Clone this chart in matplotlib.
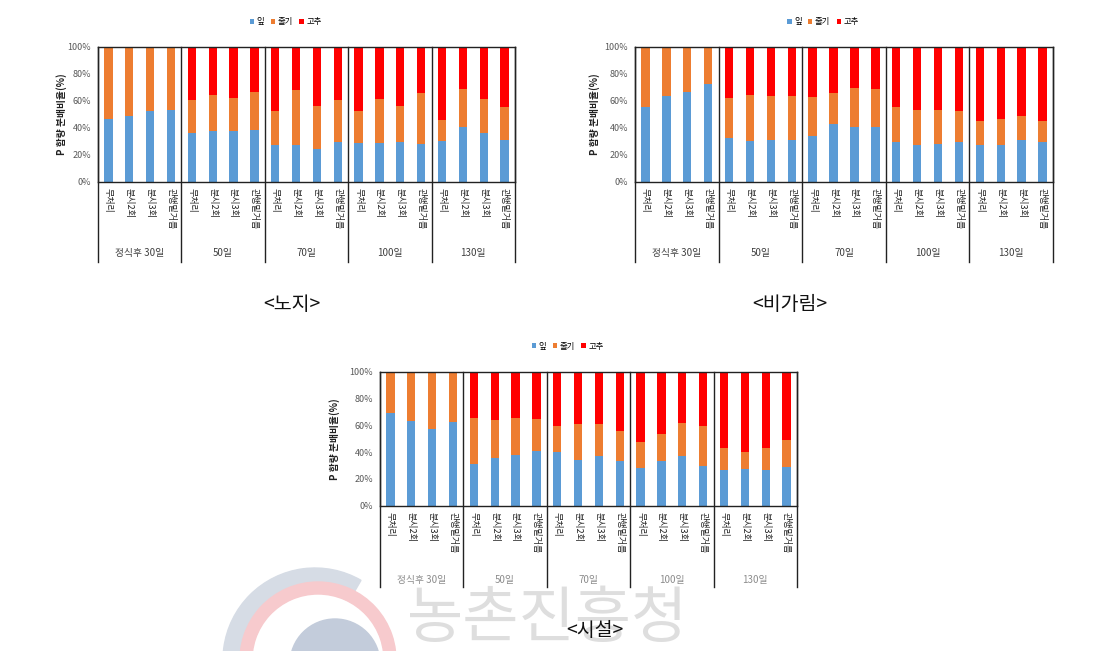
import matplotlib
matplotlib.use("Agg")
import matplotlib.pyplot as plt
from matplotlib.patches import Wedge, Circle
import numpy as np

plt.rcParams['font.family'] = ['Noto Sans CJK KR', 'DejaVu Sans']

W, H = 1117, 651

parts = ['잎', '줄기', '고추']
treatments = ['무처리', '분시2회', '분시3회', '관행밑거름']
stages = ['정식후 30일', '50일', '70일', '100일', '130일']

# 노지 (open field)
open_leaf = [46.4, 48.6, 52.6, 53.0, 35.8, 37.8, 37.5, 38.3, 27.2, 27.2,
             24.2, 29.1, 28.9, 28.4, 29.1, 27.7, 30.4, 40.2, 35.8, 30.9]
open_stem = [53.6, 51.4, 47.4, 47.0, 24.7, 26.4, 24.7, 27.9, 25.4, 40.7,
             31.8, 31.4, 23.4, 32.6, 26.9, 38.2, 15.3, 28.2, 25.4, 24.7]
open_fruit = [0, 0, 0, 0, 39.5, 35.8, 37.8, 33.8, 47.4, 32.1,
              44.0, 39.5, 47.7, 39.0, 44.0, 34.1, 54.3, 31.6, 38.8, 44.4]

# 비가림 (rain shelter)
rain_leaf = [55.6, 63.7, 66.2, 72.3, 32.1, 30.1, 30.9, 30.9, 34.1, 42.7,
             40.7, 40.2, 29.6, 27.2, 27.9, 29.6, 27.2, 27.2, 30.9, 29.1]
rain_stem = [44.4, 36.3, 33.8, 27.7, 30.1, 34.1, 32.6, 32.8, 28.9, 23.2,
             28.4, 28.2, 25.5, 25.9, 25.2, 23.0, 18.0, 19.2, 17.7, 16.1]
rain_fruit = [0, 0, 0, 0, 37.8, 35.8, 36.5, 36.3, 37.0, 34.1,
              30.9, 31.6, 44.9, 46.9, 46.9, 47.4, 54.8, 53.6, 51.4, 54.8]

# 시설 (greenhouse)
house_leaf = [69.4, 63.4, 57.2, 62.7, 31.1, 35.3, 37.8, 40.8, 40.3, 34.1,
              37.3, 33.3, 28.4, 33.6, 37.1, 29.6, 26.6, 27.1, 26.6, 29.1]
house_stem = [30.6, 36.6, 42.8, 37.3, 34.1, 28.6, 27.4, 23.6, 19.2, 26.8,
              23.6, 22.7, 18.9, 19.6, 24.8, 29.9, 16.7, 13.2, 16.7, 19.9]
house_fruit = [0, 0, 0, 0, 34.8, 36.1, 34.8, 35.6, 40.5, 39.1,
               39.1, 44.0, 52.7, 46.8, 38.1, 40.5, 56.7, 59.7, 56.7, 51.0]

colors = ['#5B9BD5', '#ED7D31', '#FF0000']

fig = plt.figure(figsize=(W / 100, H / 100), dpi=100)

# faint watermark (logo + agency name), pixel coords with y pointing down
wm = fig.add_axes([0, 0, 1, 1], zorder=0)
wm.set_xlim(0, W)
wm.set_ylim(H, 0)
wm.axis('off')
wm.add_patch(Wedge((315, 660), 92, 150, 300, width=24, color='#d6dce5'))
wm.add_patch(Wedge((318, 660), 78, -185, 5, width=12, color='#f7cacd'))
wm.add_patch(Circle((335, 664), 45, color='#c3ccdb'))
wm.text(548, 620, '농촌진흥청', fontsize=44, color='#dedede', ha='center', va='center')


def draw_chart(left, top, right, bottom, leaf, stem, fruit, ylab_x, leg_y, lab_y,
               line_y, caption, cap_x, cap_y, stage_color='#404040'):
    ax = fig.add_axes([left / W, 1 - bottom / H, (right - left) / W, (bottom - top) / H])
    ax.patch.set_alpha(0)
    x = np.arange(20)
    leaf = np.array(leaf)
    stem = np.array(stem)
    fruit = np.array(fruit)
    ax.bar(x, leaf, 0.4, color=colors[0], label=parts[0])
    ax.bar(x, stem, 0.4, bottom=leaf, color=colors[1], label=parts[1])
    ax.bar(x, fruit, 0.4, bottom=leaf + stem, color=colors[2], label=parts[2])
    ax.set_xlim(-0.5, 19.5)
    ax.set_ylim(0, 100)
    ax.set_yticks([0, 20, 40, 60, 80, 100])
    ax.set_yticklabels(['0%', '20%', '40%', '60%', '80%', '100%'], fontsize=6.5,
                       color='#595959')
    ax.tick_params(axis='y', length=0, pad=5)
    ax.set_xticks([])
    for s in ax.spines.values():
        s.set_color('#222222')
        s.set_linewidth(1.0)

    # group separators, extended down through the label area
    hgt = bottom - top
    ext = -(line_y - bottom) / hgt
    for xs in [-0.5, 3.5, 7.5, 11.5, 15.5, 19.5]:
        ax.plot([xs, xs], [ext, 1], transform=ax.get_xaxis_transform(),
                color='#222222', lw=1.0, clip_on=False)

    for i in range(20):
        ax.text(i, -6 / hgt, treatments[i % 4], transform=ax.get_xaxis_transform(),
                rotation=270, ha='center', va='top', fontsize=6.5, color='#222222')
    for g in range(5):
        ax.text(g * 4 + 1.5, -(lab_y - bottom) / hgt, stages[g],
                transform=ax.get_xaxis_transform(), ha='center', va='center',
                fontsize=7, color=stage_color)

    fig.text(ylab_x / W, 1 - (top + bottom) / 2 / H, 'P 함량 분배비율(%)', rotation=90,
             ha='center', va='center', fontsize=7, fontweight='bold', color='#222222')

    ax.legend(loc='center', bbox_to_anchor=(0.45, 1 + (top - leg_y) / hgt), ncol=3,
              frameon=False, fontsize=6, handlelength=0.5, handleheight=0.5,
              handletextpad=0.3, columnspacing=0.8)

    fig.text(cap_x / W, 1 - cap_y / H, caption, ha='center', va='center',
             fontsize=14, color='#111111', fontweight='light')
    return ax


draw_chart(98, 46.7, 515, 181.7, open_leaf, open_stem, open_fruit,
           62, 22, 253, 262, '<노지>', 292, 305)
draw_chart(635, 46.7, 1053, 181.7, rain_leaf, rain_stem, rain_fruit,
           595, 22, 253, 262, '<비가림>', 790, 305)
draw_chart(380, 371.7, 797, 505.7, house_leaf, house_stem, house_fruit,
           335, 346, 580, 587, '<시설>', 595, 630, stage_color='#8c8c8c')

plt.savefig("out.png", dpi=100)
